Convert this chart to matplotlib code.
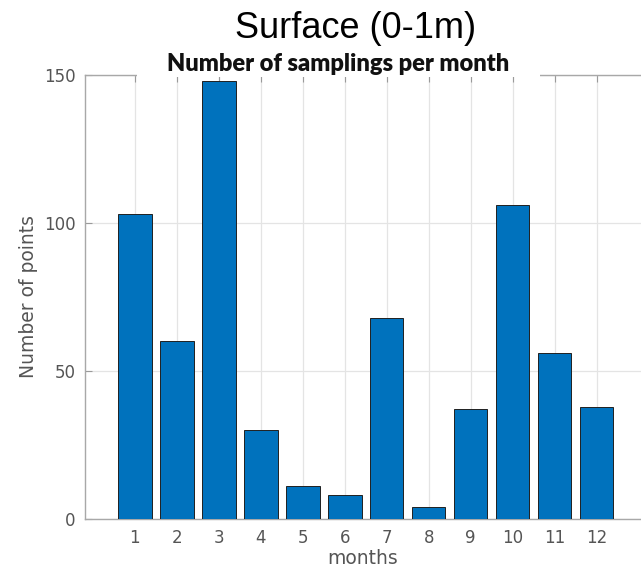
import matplotlib
matplotlib.use('Agg')
import matplotlib.pyplot as plt
from matplotlib.patches import Rectangle

# data
months = list(range(1, 13))
counts = [103, 60, 148, 30, 11, 8, 68, 4, 37, 106, 56, 38]
yticks = [0, 50, 100, 150]

W, H = 641, 571
fig = plt.figure(figsize=(W / 100, H / 100), dpi=100)

# axes box in pixels: left 85, top 75, bottom 519, right runs off the image
ax = fig.add_axes([85 / W, 1 - 519 / H, 1 - 85 / W, (519 - 75) / H])
ax.bar(months, counts, width=0.8, color='#0072BD', edgecolor='#202020',
       linewidth=0.7, zorder=3)

ax.set_xlim(-0.19, 13.06)
ax.set_ylim(0, 150)
ax.set_xticks(months)
ax.set_yticks(yticks)
ax.grid(True, color='#e4e4e4', linewidth=0.9, zorder=0)
ax.set_axisbelow(True)

for side in ['left', 'top', 'bottom']:
    ax.spines[side].set_color('#a8a8a8')
    ax.spines[side].set_linewidth(1.0)
ax.spines['right'].set_visible(False)

ax.tick_params(direction='in', length=5, width=0.8, color='#9a9a9a',
               labelsize=12, labelcolor='#555555', top=True, pad=7)

ax.set_xlabel('months', fontsize=13.5, color='#555555', labelpad=2)
ax.set_ylabel('Number of points', fontsize=13.5, color='#555555', labelpad=4)

# white strip hiding part of the top spine behind the subtitle
fig.add_artist(Rectangle((137 / W, 1 - 77 / H), (540 - 137) / W, 27 / H,
                         transform=fig.transFigure, facecolor='white',
                         edgecolor='none', zorder=5))

fig.text(338 / W, 1 - 71 / H, 'Number of samplings per month',
         ha='center', va='baseline', fontsize=17, fontweight='heavy',
         family=['Lato', 'DejaVu Sans'], color='#111111', zorder=6)

fig.text(356 / W, 1 - 38 / H, 'Surface (0-1m)', ha='center', va='baseline',
         fontsize=26, family=['Liberation Sans', 'DejaVu Sans'], color='black')

fig.savefig('out.png', dpi=100)
